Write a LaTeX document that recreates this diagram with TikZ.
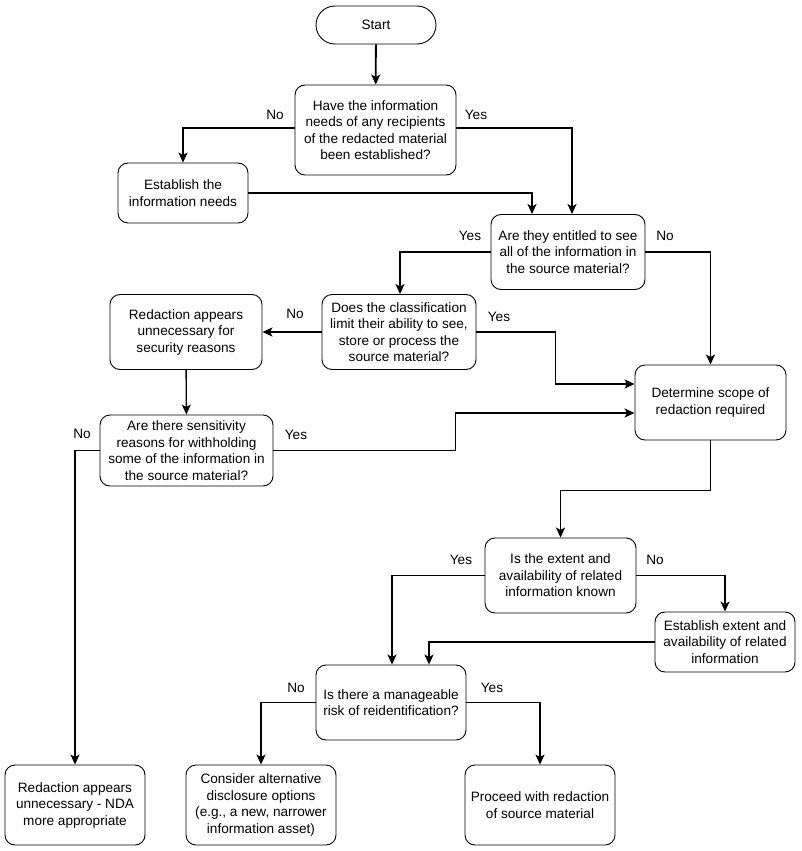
\documentclass[tikz,border=0pt]{standalone}
\usepackage{fontspec}
\setmainfont{Liberation Sans}
\usetikzlibrary{arrows.meta}
\begin{document}
\begin{tikzpicture}[x=1pt,y=1pt,
  box/.style={draw, line width=0.9pt, rounded corners=10pt, align=center,
    font=\fontsize{13.6}{16.5}\selectfont, inner sep=1pt},
  arr/.style={line width=1.8pt, -{Stealth[length=10pt,width=9pt,inset=2.5pt]}},
  lbl/.style={font=\fontsize{13.6}{16}\selectfont, inner sep=0pt}]
\useasboundingbox (0,0) rectangle (801,-851);
\fill[white] (0,0) rectangle (801,-851);
% nodes
\node[box, rounded corners=19pt, minimum width=120pt, minimum height=38pt] (start) at (376,-25) {Start};
\node[box, minimum width=161pt, minimum height=90pt] (q1) at (375.5,-130) {Have the information\\needs of any recipients\\of the redacted material\\been established?};
\node[box, minimum width=130pt, minimum height=60pt] (en) at (183,-193) {Establish the\\information needs};
\node[box, minimum width=154pt, minimum height=75pt] (q2) at (568,-252) {Are they entitled to see\\all of the information in\\the source material?};
\node[box, minimum width=154pt, minimum height=75pt] (q3) at (399,-332) {Does the classification\\limit their ability to see,\\store or process the\\source material?};
\node[box, minimum width=152pt, minimum height=75pt] (rs) at (186,-332) {Redaction appears\\unnecessary for\\security reasons};
\node[box, minimum width=151pt, minimum height=75pt] (ds) at (710.5,-402.5) {Determine scope of\\redaction required};
\node[box, minimum width=173pt, minimum height=71pt] (q4) at (186.5,-450.5) {Are there sensitivity\\reasons for withholding\\some of the information in\\the source material?};
\node[box, minimum width=151pt, minimum height=75pt] (q5) at (560.5,-575.5) {Is the extent and\\availability of related\\information known};
\node[box, minimum width=140pt, minimum height=60pt] (ee) at (725,-642) {Establish extent and\\availability of related\\information};
\node[box, minimum width=150pt, minimum height=75pt] (q6) at (391,-702.5) {Is there a manageable\\risk of reidentification?};
\node[box, minimum width=140pt, minimum height=80pt] (nda) at (75,-805) {Redaction appears\\unnecessary - NDA\\more appropriate};
\node[box, minimum width=150pt, minimum height=80pt] (con) at (261,-805) {Consider alternative\\disclosure options\\(e.g., a new, narrower\\information asset)};
\node[box, minimum width=150pt, minimum height=80pt] (pro) at (540,-805) {Proceed with redaction\\of source material};
% connectors
\draw[arr] (start) -- (q1);
\draw[arr] ([yshift=2pt]q1.west) -| (en.north);
\draw[arr] ([yshift=2pt]q1.east) -| ([xshift=4pt]q2.north);
\draw[arr] (en.east) -| ([xshift=-36pt]q2.north);
\draw[arr] (q2.west) -| ([xshift=1pt]q3.north);
\draw[arr] (q2.east) -| (ds.north);
\draw[arr] (q3.west) -- (rs.east);
\draw[arr] (q3.east) -- ++(79pt,0) |- ([yshift=18.5pt]ds.west);
\draw[arr, line width=1.4pt] (rs) -- (q4);
\draw[arr] (q4.east) -- ++(182pt,0) |- ([yshift=-10.5pt]ds.west);
\draw[arr] (q4.west) -| (nda.north);
\draw[arr] (ds.south) -- ++(0,-50pt) -| (q5.north);
\draw[arr] (q5.west) -| ([xshift=1pt]q6.north);
\draw[arr] (q5.east) -| (ee.north);
\draw[arr] (ee.west) -| ([xshift=38pt]q6.north);
\draw[arr] (q6.west) -| (con.north);
\draw[arr] (q6.east) -| (pro.north);
% labels
\node[lbl] (l1) at (275,-115) {No};
\node[lbl] (l2) at (476,-115) {Yes};
\node[lbl] (l3) at (470,-236) {Yes};
\node[lbl] (l4) at (665,-236) {No};
\node[lbl] (l5) at (295,-314) {No};
\node[lbl] (l6) at (499,-317) {Yes};
\node[lbl] (l7) at (296,-435) {Yes};
\node[lbl] (l8) at (82,-434) {No};
\node[lbl] (l9) at (461,-560) {Yes};
\node[lbl] (l10) at (655,-560) {No};
\node[lbl] (l11) at (296,-688) {No};
\node[lbl] (l12) at (492,-688) {Yes};
\end{tikzpicture}
\end{document}
